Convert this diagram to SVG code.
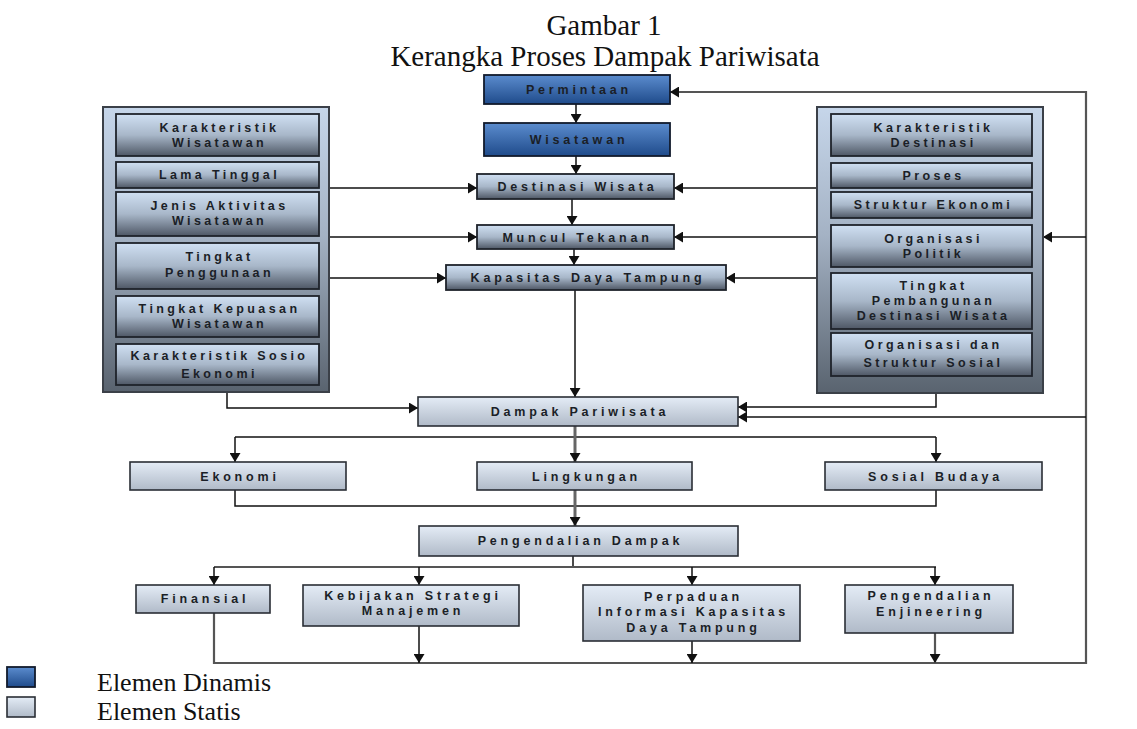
<svg xmlns="http://www.w3.org/2000/svg" width="1137" height="729" viewBox="0 0 1137 729">
<defs>
<linearGradient id="gBlue" x1="0" y1="0" x2="0" y2="1"><stop offset="0" stop-color="#5b8cce"/><stop offset="1" stop-color="#1f4b8b"/></linearGradient>
<linearGradient id="gGray" x1="0" y1="0" x2="0" y2="1"><stop offset="0" stop-color="#d0e0f3"/><stop offset="0.5" stop-color="#a8b7c9"/><stop offset="1" stop-color="#4e5765"/></linearGradient>
<linearGradient id="gLight" x1="0" y1="0" x2="0" y2="1"><stop offset="0" stop-color="#e4ecf6"/><stop offset="1" stop-color="#b0bac8"/></linearGradient>
<linearGradient id="gPanel" x1="0" y1="0" x2="0" y2="1"><stop offset="0" stop-color="#c6d6ea"/><stop offset="0.45" stop-color="#a4b2c4"/><stop offset="1" stop-color="#59636f"/></linearGradient>
<marker id="ah" viewBox="0 0 9 11" refX="9" refY="5.5" markerWidth="9" markerHeight="11" markerUnits="userSpaceOnUse" orient="auto"><path d="M0,0 L9,5.5 L0,11 Z" fill="#111"/></marker>
<style>
.title{font-family:"Liberation Serif","Times New Roman",serif;font-size:29px;fill:#111;text-anchor:middle}
.leg{font-family:"Liberation Serif","Times New Roman",serif;font-size:26px;fill:#111}
.t{font-family:"Liberation Sans",Arial,sans-serif;font-size:12.5px;font-weight:bold;letter-spacing:3.8px;fill:#1b1f27;text-anchor:middle}
.tp{font-family:"Liberation Sans",Arial,sans-serif;font-size:12.5px;font-weight:bold;letter-spacing:3.4px;fill:#1b1f27;text-anchor:middle}
.blue{fill:url(#gBlue);stroke:#111a2c;stroke-width:1.8}
.gray{fill:url(#gGray);stroke:#1e232b;stroke-width:1.8}
.light{fill:url(#gLight);stroke:#2a2e35;stroke-width:1.6}
.panel{fill:url(#gPanel);stroke:#3b4048;stroke-width:2}
.c{fill:none;stroke:#111;stroke-width:1.5}
.cg{fill:none;stroke:#555;stroke-width:2.2}
.ct{fill:none;stroke:#666;stroke-width:3}
</style>
</defs>
<rect width="1137" height="729" fill="#fff"/>
<text class="title" x="604" y="35">Gambar 1</text>
<text class="title" x="605" y="66">Kerangka Proses Dampak Pariwisata</text>

<g id="connectors">
<path class="c" d="M576,104 V123" marker-end="url(#ah)"/>
<path class="c" d="M576,156 V174" marker-end="url(#ah)"/>
<path class="c" d="M572,199 V225" marker-end="url(#ah)"/>
<path class="c" d="M574,249 V265" marker-end="url(#ah)"/>
<path class="c" d="M575,290 V397" marker-end="url(#ah)"/>
<path class="c" d="M329,188 H477" marker-end="url(#ah)"/>
<path class="c" d="M329,237 H477" marker-end="url(#ah)"/>
<path class="c" d="M329,278 H446" marker-end="url(#ah)"/>
<path class="c" d="M817,188 H674" marker-end="url(#ah)"/>
<path class="c" d="M817,237 H674" marker-end="url(#ah)"/>
<path class="c" d="M817,278 H726" marker-end="url(#ah)"/>
<path class="c" d="M227,392 V408 H418" marker-end="url(#ah)"/>
<path class="c" d="M936,393 V407 H738" marker-end="url(#ah)"/>
<path class="cg" d="M214,613 V663 H1086 V92 H670" marker-end="url(#ah)"/>
<path class="c" d="M1086,237 H1043" marker-end="url(#ah)"/>
<path class="c" d="M1086,417 H738" marker-end="url(#ah)"/>
<path class="c" d="M235,437 H936"/>
<path class="c" d="M235,437 V462" marker-end="url(#ah)"/>
<path class="c" d="M936,437 V462" marker-end="url(#ah)"/>
<path class="ct" d="M575,426 V462" marker-end="url(#ah)"/>
<path class="c" d="M235,490 V506 H936 V490"/>
<path class="ct" d="M575,490 V526" marker-end="url(#ah)"/>
<path class="c" d="M573,556 V567"/>
<path class="cg" d="M214,567 H936"/>
<path class="c" d="M214,567 V585" marker-end="url(#ah)"/>
<path class="c" d="M419,567 V585" marker-end="url(#ah)"/>
<path class="c" d="M692,567 V585" marker-end="url(#ah)"/>
<path class="c" d="M935,567 V585" marker-end="url(#ah)"/>
<path class="c" d="M419,626 V663" marker-end="url(#ah)"/>
<path class="c" d="M692,641 V663" marker-end="url(#ah)"/>
<path class="cg" d="M935,633 V663" marker-end="url(#ah)"/>
</g>

<g id="panel-left">
<rect class="panel" x="103" y="107" width="226" height="285"/>
<g id="n-karakteristik-wisatawan"><rect class="gray" x="116" y="114" width="203" height="42"/><text class="tp" x="219.5" y="132">Karakteristik</text><text class="tp" x="219.5" y="147">Wisatawan</text></g>
<g id="n-lama-tinggal"><rect class="gray" x="116" y="162" width="203" height="26"/><text class="tp" x="219.5" y="179">Lama Tinggal</text></g>
<g id="n-jenis-aktivitas"><rect class="gray" x="116" y="192" width="203" height="44"/><text class="tp" x="219.5" y="210">Jenis Aktivitas</text><text class="tp" x="219.5" y="225">Wisatawan</text></g>
<g id="n-tingkat-penggunaan"><rect class="gray" x="116" y="243" width="203" height="46"/><text class="tp" x="219.5" y="261">Tingkat</text><text class="tp" x="219.5" y="277">Penggunaan</text></g>
<g id="n-tingkat-kepuasan"><rect class="gray" x="116" y="296" width="203" height="41"/><text class="tp" x="219.5" y="313">Tingkat Kepuasan</text><text class="tp" x="219.5" y="328">Wisatawan</text></g>
<g id="n-karakteristik-sosio"><rect class="gray" x="116" y="344" width="203" height="41"/><text class="tp" x="219.5" y="360">Karakteristik Sosio</text><text class="tp" x="219.5" y="378">Ekonomi</text></g>
</g>

<g id="panel-right">
<rect class="panel" x="817" y="107" width="226" height="286"/>
<g id="n-karakteristik-destinasi"><rect class="gray" x="831" y="114" width="201" height="42"/><text class="tp" x="933.5" y="132">Karakteristik</text><text class="tp" x="933.5" y="147">Destinasi</text></g>
<g id="n-proses"><rect class="gray" x="831" y="163" width="201" height="25"/><text class="tp" x="933.5" y="180">Proses</text></g>
<g id="n-struktur-ekonomi"><rect class="gray" x="831" y="192" width="201" height="26"/><text class="tp" x="933.5" y="209">Struktur Ekonomi</text></g>
<g id="n-organisasi-politik"><rect class="gray" x="831" y="225" width="201" height="42"/><text class="tp" x="933.5" y="243">Organisasi</text><text class="tp" x="933.5" y="258">Politik</text></g>
<g id="n-tingkat-pembangunan"><rect class="gray" x="831" y="273" width="201" height="56"/><text class="tp" x="933.5" y="290">Tingkat</text><text class="tp" x="933.5" y="305">Pembangunan</text><text class="tp" x="933.5" y="320">Destinasi Wisata</text></g>
<g id="n-organisasi-sosial"><rect class="gray" x="831" y="333" width="201" height="43"/><text class="tp" x="933.5" y="349">Organisasi dan</text><text class="tp" x="933.5" y="367">Struktur Sosial</text></g>
</g>

<g id="n-permintaan"><rect class="blue" x="484" y="75" width="186" height="29"/><text class="t" x="579" y="94">Permintaan</text></g>
<g id="n-wisatawan"><rect class="blue" x="484" y="123" width="186" height="33"/><text class="t" x="579" y="144">Wisatawan</text></g>
<g id="n-destinasi"><rect class="gray" x="477" y="174" width="197" height="25"/><text class="t" x="577.5" y="191">Destinasi Wisata</text></g>
<g id="n-muncul"><rect class="gray" x="477" y="225" width="197" height="24"/><text class="t" x="577.5" y="242">Muncul Tekanan</text></g>
<g id="n-kapasitas"><rect class="gray" x="446" y="265" width="280" height="25"/><text class="t" x="588" y="282">Kapasitas Daya Tampung</text></g>
<g id="n-dampak"><rect class="light" x="418" y="397" width="320" height="29"/><text class="t" x="580" y="416">Dampak Pariwisata</text></g>
<g id="n-ekonomi"><rect class="light" x="130" y="462" width="216" height="28"/><text class="t" x="240" y="481">Ekonomi</text></g>
<g id="n-lingkungan"><rect class="light" x="477" y="462" width="215" height="28"/><text class="t" x="586.5" y="481">Lingkungan</text></g>
<g id="n-sosial-budaya"><rect class="light" x="825" y="462" width="217" height="28"/><text class="t" x="935.5" y="481">Sosial Budaya</text></g>
<g id="n-pengendalian-dampak"><rect class="light" x="419" y="526" width="319" height="30"/><text class="t" x="580.5" y="545">Pengendalian Dampak</text></g>
<g id="n-finansial"><rect class="light" x="136" y="585" width="134" height="28"/><text class="t" x="205" y="603">Finansial</text></g>
<g id="n-kebijakan"><rect class="light" x="303" y="585" width="216" height="41"/><text class="t" x="413" y="600">Kebijakan Strategi</text><text class="t" x="413" y="615">Manajemen</text></g>
<g id="n-perpaduan"><rect class="light" x="583" y="585" width="217" height="56"/><text class="t" x="693.5" y="601">Perpaduan</text><text class="t" x="693.5" y="616">Informasi Kapasitas</text><text class="t" x="693.5" y="632">Daya Tampung</text></g>
<g id="n-pengendalian-enjineering"><rect class="light" x="845" y="585" width="168" height="48"/><text class="t" x="931" y="600">Pengendalian</text><text class="t" x="931" y="616">Enjineering</text></g>

<g id="legend">
<rect class="blue" x="7" y="667" width="28" height="20"/>
<rect class="light" x="7" y="697" width="28" height="20"/>
<text class="leg" x="97" y="691">Elemen Dinamis</text>
<text class="leg" x="97" y="720">Elemen Statis</text>
</g>
</svg>
